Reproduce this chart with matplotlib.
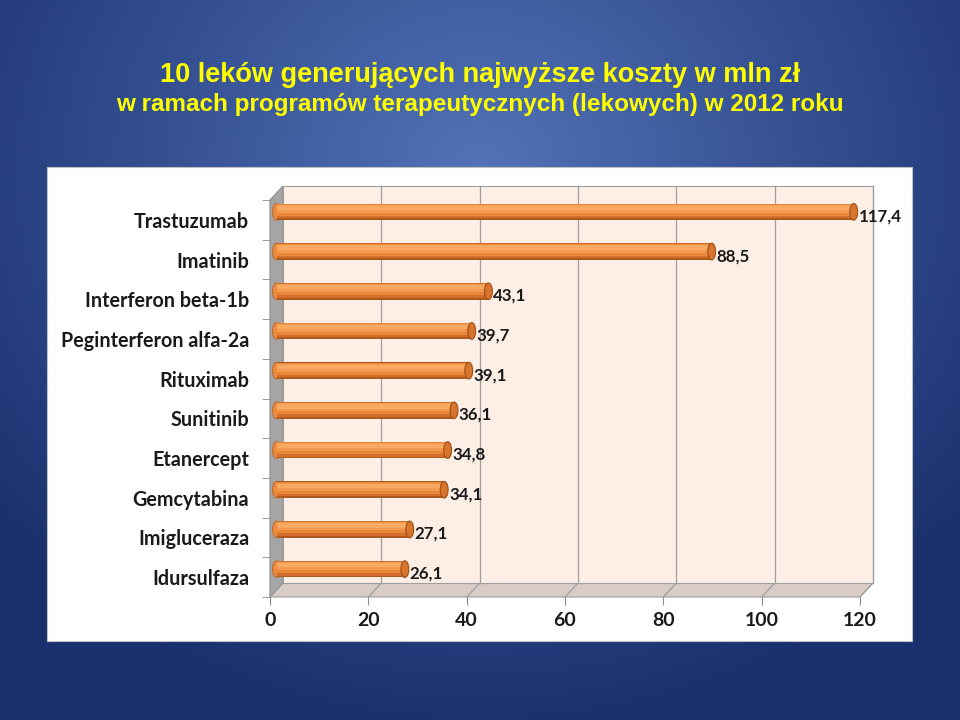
import numpy as np
import matplotlib
matplotlib.use("Agg")
import matplotlib.pyplot as plt
from matplotlib.patches import Rectangle, Polygon, Ellipse
import matplotlib.transforms as mtransforms

categories = ["Trastuzumab", "Imatinib", "Interferon beta-1b", "Peginterferon alfa-2a",
              "Rituximab", "Sunitinib", "Etanercept", "Gemcytabina", "Imigluceraza", "Idursulfaza"]
values = [117.4, 88.5, 43.1, 39.7, 39.1, 36.1, 34.8, 34.1, 27.1, 26.1]
value_labels = ["117,4", "88,5", "43,1", "39,7", "39,1", "36,1", "34,8", "34,1", "27,1", "26,1"]
xticks = [0, 20, 40, 60, 80, 100, 120]
title1 = "10 leków generujących najwyższe koszty w mln zł"
title2 = "w ramach programów terapeutycznych (lekowych) w 2012 roku"

W, H = 960, 720
fig = plt.figure(figsize=(9.6, 7.2), dpi=100)

# background radial gradient
bg = fig.add_axes([0, 0, 1, 1], zorder=-10)
yy, xx = np.mgrid[0:H, 0:W]
r = np.sqrt(((xx - 480) / 620.0) ** 2 + ((yy - 170) / 560.0) ** 2)
r = np.clip(r, 0, 1)
c0 = np.array([0x52, 0x73, 0xB8]) / 255.0
c1 = np.array([0x1A, 0x30, 0x6E]) / 255.0
img = c0[None, None, :] * (1 - r[..., None]) + c1[None, None, :] * r[..., None]
bg.imshow(img, extent=[0, W, H, 0], aspect="auto")
bg.set_xlim(0, W); bg.set_ylim(H, 0)
bg.axis("off")

# white panel
bg.add_patch(Rectangle((47, 167), 865, 474, facecolor="white", edgecolor="#BFBFBF", lw=0.8, zorder=2))

# titles
fig.text(0.5, 1 - 75 / H, title1, ha="center", va="center", color="#FFFF00",
         fontsize=19.5, fontweight="bold", family="Liberation Sans")
fig.text(0.5, 1 - 105 / H, title2, ha="center", va="center", color="#FFFF00",
         fontsize=17.5, fontweight="bold", family="Liberation Sans")

# main axes (front plane)
x0p, x1p, ytp, ybp = 270, 860, 200, 597
ax = fig.add_axes([x0p / W, 1 - ybp / H, (x1p - x0p) / W, (ybp - ytp) / H], zorder=5)
ax.set_xlim(0, 120)
ax.set_ylim(len(categories) - 0.5, -0.5)
ax.patch.set_alpha(0)
for s in ax.spines.values():
    s.set_visible(False)

dx, dy = 13, 14  # depth offset in pixels
back = ax.transData + mtransforms.ScaledTranslation(dx / 100, dy / 100, fig.dpi_scale_trans)
mid = ax.transData + mtransforms.ScaledTranslation(dx / 200, (dy / 2 + 1) / 100, fig.dpi_scale_trans)

ymin, ymax = len(categories) - 0.5, -0.5
# back wall
ax.add_patch(Rectangle((0, ymax), 120, ymin - ymax, transform=back, facecolor="#FDEEE6",
                       edgecolor="#9E9E9E", lw=0.8, zorder=1, clip_on=False))
for t in xticks[1:]:
    ax.plot([t, t], [ymin, ymax], transform=back, color="#9E9E9E", lw=0.9, zorder=1.5, clip_on=False)

# floor
fdisp = ax.transData.transform([(0, ymin), (120, ymin)])
bdisp = back.transform([(120, ymin), (0, ymin)])
floor = Polygon(np.vstack([fdisp, bdisp]), closed=True, transform=None, facecolor="#D9CBC6",
                edgecolor="#9E9E9E", lw=0.8, zorder=4)
fig.add_artist(floor)
for t in xticks:
    p = ax.transData.transform([(t, ymin)])[0]
    q = back.transform([(t, ymin)])[0]
    fig.add_artist(plt.Line2D([p[0], q[0]], [p[1], q[1]], transform=None, color="#9E9E9E", lw=0.9, zorder=4.1))

# left side wall
lf = ax.transData.transform([(0, ymin), (0, ymax)])
lb = back.transform([(0, ymax), (0, ymin)])
lwall = Polygon(np.vstack([lf, lb]), closed=True, transform=None, facecolor="#A5A5A5",
                edgecolor="#8C8C8C", lw=0.8, zorder=4)
fig.add_artist(lwall)

# bars (cylinder look via layered bars, lit from above)
y = np.arange(len(categories))
bh = 0.42
layers = [(1.00, 0.000, "#B0591C"),
          (0.88, -0.020, "#D2702B"),
          (0.70, -0.045, "#EA8739"),
          (0.48, -0.075, "#F39A4F"),
          (0.26, -0.100, "#F8AA63")]
for k, (f, off, col) in enumerate(layers):
    ax.barh(y + off, values, height=bh * f, left=0, transform=mid, color=col,
            zorder=8 + 0.01 * k, clip_on=False)
for yi, v in zip(y, values):
    ax.add_patch(Ellipse((0, yi), 1.6, bh, transform=mid, facecolor="#EE8A40",
                         edgecolor="#B9601F", lw=0.6, zorder=7.9, clip_on=False))
    ax.add_patch(Ellipse((v, yi), 1.6, bh, transform=mid, facecolor="#D8742C",
                         edgecolor="#9C4E1A", lw=0.8, zorder=8.5, clip_on=False))

# value labels
lab_tr = ax.transData + mtransforms.ScaledTranslation(dx / 200, 3.5 / 100, fig.dpi_scale_trans)
for yi, v, s in zip(y, values, value_labels):
    ax.text(v + 1.0, yi, s, transform=lab_tr, ha="left", va="center", fontsize=12.2,
            family="Lato", fontweight="bold", color="#1A1A1A", zorder=9, clip_on=False)

# axes ticks
ax.set_yticks(y)
ax.set_yticklabels(categories, fontsize=14.2, family="Lato", fontweight="bold", color="#1A1A1A")
ax.set_yticks(np.arange(-0.5, len(categories), 1.0), minor=True)
ax.tick_params(axis="y", which="major", length=0, pad=15)
ax.tick_params(axis="y", which="minor", length=6, color="#8C8C8C", direction="out")
ax.set_xticks(xticks)
ax.set_xticklabels([str(t) for t in xticks], fontsize=14, family="Lato", fontweight="bold", color="#1A1A1A")
ax.tick_params(axis="x", length=6, color="#8C8C8C", direction="out", pad=5)

fig.savefig("out.png", dpi=100)
